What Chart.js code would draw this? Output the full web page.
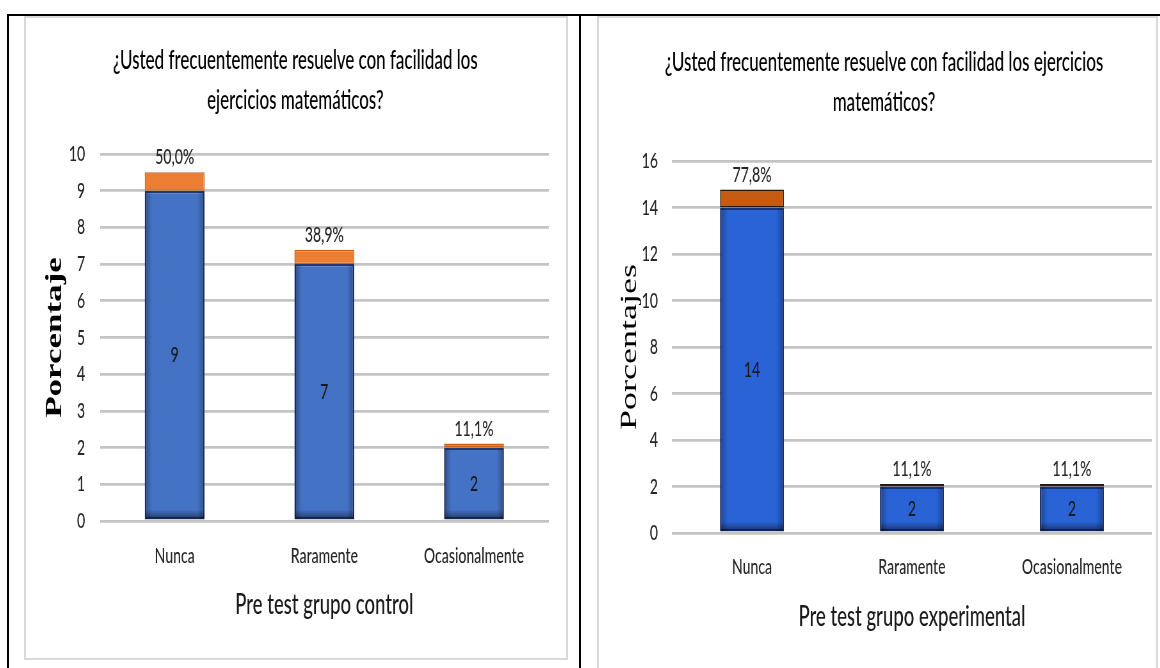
<!DOCTYPE html>
<html lang="es">
<head>
<meta charset="utf-8">
<title>Pre test</title>
<script src="https://cdn.jsdelivr.net/npm/chart.js@4.4.1/dist/chart.umd.min.js"></script>
<style>
  html, body { margin: 0; padding: 0; background: #fff; }
  body { width: 1160px; height: 668px; position: relative; overflow: hidden; }
  .rule { position: absolute; background: #000; }
  .frame { position: absolute; border: 2px solid #d9d9d9; box-sizing: border-box; }
  .wrap { position: absolute; transform-origin: 0 0; transform: scaleX(0.64); }
</style>
</head>
<body>
<div class="rule" style="left:8px;top:14px;width:1152px;height:2px"></div>
<div class="rule" style="left:7px;top:14px;width:2px;height:654px"></div>
<div class="rule" style="left:579px;top:14px;width:2px;height:654px"></div>
<div class="frame" style="left:24px;top:16px;width:544px;height:644px"></div>
<div class="frame" style="left:597px;top:16px;width:561px;height:680px"></div>
<div class="wrap" style="left:24px;top:16px;width:850px;height:644px"><canvas id="controlChart"></canvas></div>
<div class="wrap" style="left:597px;top:16px;width:877px;height:644px"><canvas id="experimentalChart"></canvas></div>

<script>
// data
const categories = ['Nunca', 'Raramente', 'Ocasionalmente'];

const controlCounts = [9, 7, 2];
const controlShares = [0.5, 0.389, 0.111];
const controlTicks = [0, 1, 2, 3, 4, 5, 6, 7, 8, 9, 10];

const experimentalCounts = [14, 2, 2];
const experimentalShares = [0.778, 0.111, 0.111];
const experimentalTicks = [0, 2, 4, 6, 8, 10, 12, 14, 16];

const titleLinesControl = ['¿Usted frecuentemente resuelve con facilidad los', 'ejercicios matemáticos?'];
const titleLinesExperimental = ['¿Usted frecuentemente resuelve con facilidad los ejercicios', 'matemáticos?'];

const sans = 'Lato';
const textWeight = 500;

function pctText(v) {
    return (v * 100).toFixed(1).replace('.', ',') + '%';
}

// counts in the middle of the blue bar, share just above the stack
const barLabels = {
    id: 'barLabels',
    afterDatasetsDraw(chart) {
        const ctx = chart.ctx;
        ctx.save();
        // soft inner shadow on the blue bars
        chart.getDatasetMeta(0).data.forEach(bar => {
            const w = bar.width, left = bar.x - w / 2;
            const g = ctx.createLinearGradient(left, 0, left + w, 0);
            g.addColorStop(0, 'rgba(0,0,0,0.32)');
            g.addColorStop(0.12, 'rgba(0,0,0,0)');
            g.addColorStop(0.88, 'rgba(0,0,0,0)');
            g.addColorStop(1, 'rgba(0,0,0,0.32)');
            ctx.fillStyle = g;
            ctx.fillRect(left + 1, bar.y + 1, w - 2, bar.base - bar.y - 2);
            const gb = ctx.createLinearGradient(0, bar.base - 10, 0, bar.base);
            gb.addColorStop(0, 'rgba(0,0,0,0)');
            gb.addColorStop(1, 'rgba(0,0,0,0.5)');
            ctx.fillStyle = gb;
            ctx.fillRect(left + 1, bar.base - 10, w - 2, 9);
        });
        ctx.font = textWeight + ' 22px ' + sans;
        ctx.textAlign = 'center';
        ctx.textBaseline = 'middle';
        chart.data.datasets.forEach((ds, i) => {
            chart.getDatasetMeta(i).data.forEach((bar, j) => {
                if (i === 0) {
                    ctx.fillStyle = '#1a1a1a';
                    ctx.fillText(String(ds.data[j]), bar.x, (bar.y + bar.base) / 2);
                } else {
                    ctx.fillStyle = '#262626';
                    ctx.fillText(pctText(ds.data[j]), bar.x, bar.y - 15);
                }
            });
        });
        ctx.restore();
    }
};

function createChart(id, o) {
    const ctx = document.getElementById(id).getContext('2d');
    return new Chart(ctx, {
        type: 'bar',
        data: {
            labels: categories,
            datasets: [{
                data: o.counts,
                backgroundColor: o.blue,
                borderColor: o.blueBorder,
                borderWidth: 2.5,
                borderSkipped: false
            }, {
                data: o.shares,
                backgroundColor: o.orange,
                borderColor: o.orangeBorder,
                borderWidth: 1.5,
                borderSkipped: false
            }]
        },
        options: {
            maintainAspectRatio: false,
            animation: false,
            events: [],
            categoryPercentage: 0.8,
            barPercentage: 0.5,
            layout: {
                padding: { left: o.padLeft, right: o.padRight, top: 0, bottom: o.padBottom }
            },
            scales: {
                x: {
                    stacked: true,
                    afterFit: scale => { scale.height = o.xAxisHeight; },
                    grid: { display: false, drawTicks: false },
                    border: { display: false },
                    ticks: {
                        color: '#262626',
                        padding: o.xTickPad,
                        font: { family: sans, size: 22, weight: textWeight }
                    },
                    title: {
                        display: true,
                        text: o.xTitle,
                        color: '#1a1a1a',
                        padding: 0,
                        font: { family: sans, size: 29, weight: textWeight }
                    }
                },
                y: {
                    stacked: true,
                    min: 0,
                    max: o.ticks[o.ticks.length - 1],
                    afterBuildTicks: scale => {
                        scale.ticks = o.ticks.map(v => ({ value: v }));
                    },
                    afterFit: scale => { scale.width = o.yAxisWidth; },
                    grid: { color: '#c4c4c4', lineWidth: 2.8, drawTicks: false },
                    border: { display: false },
                    ticks: {
                        color: '#262626',
                        padding: o.yTickPad,
                        font: { family: sans, size: 22, weight: textWeight }
                    },
                    title: {
                        display: true,
                        text: o.yTitle,
                        color: '#000',
                        padding: 0,
                        font: { family: 'Liberation Serif', size: o.yTitleSize, weight: o.yTitleWeight }
                    }
                }
            },
            plugins: {
                legend: { display: false },
                tooltip: { enabled: false },
                title: {
                    display: true,
                    text: o.title,
                    color: '#000',
                    padding: { top: o.titleTop, bottom: o.titleBottom },
                    font: { family: sans, size: 26.5, weight: textWeight, lineHeight: 40 / 26.5 }
                }
            }
        },
        plugins: [barLabels]
    });
}

createChart('controlChart', {
    counts: controlCounts,
    shares: controlShares,
    ticks: controlTicks,
    title: titleLinesControl,
    xTitle: 'Pre test grupo control',
    yTitle: 'Porcentaje',
    yTitleSize: 35,
    yTitleWeight: 'bold',
    blue: '#4472c4',
    blueBorder: '#1f3a78',
    orange: '#ed7d31',
    orangeBorder: '#c8641f',
    padLeft: 28,
    padRight: 30,
    padBottom: 37.6,
    yAxisWidth: 90.5,
    xAxisHeight: 101.4,
    yTickPad: 23,
    xTickPad: 22,
    titleTop: 24,
    titleBottom: 34
});

createChart('experimentalChart', {
    counts: experimentalCounts,
    shares: experimentalShares,
    ticks: experimentalTicks,
    title: titleLinesExperimental,
    xTitle: 'Pre test grupo experimental',
    yTitle: 'Porcentajes',
    yTitleSize: 36,
    yTitleWeight: 'normal',
    blue: '#2a63d6',
    blueBorder: '#17337e',
    orange: '#c55a11',
    orangeBorder: '#2a1a0c',
    padLeft: 30,
    padRight: 10,
    padBottom: 25.6,
    yAxisWidth: 87.2,
    xAxisHeight: 101.4,
    yTickPad: 22,
    xTickPad: 21,
    titleTop: 26,
    titleBottom: 39
});
</script>
</body>
</html>
